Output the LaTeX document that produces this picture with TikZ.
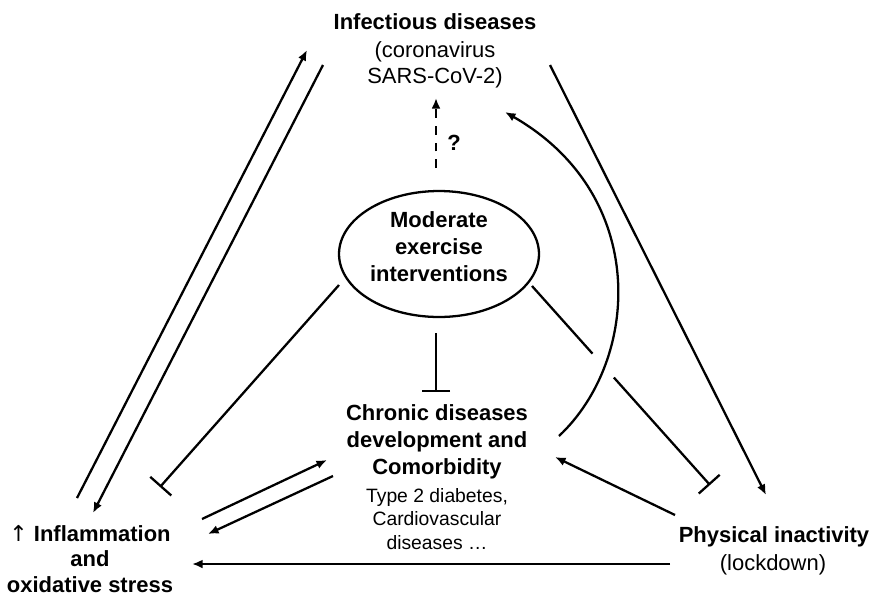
\documentclass[tikz,border=0pt]{standalone}
\usepackage{fontspec}
\setmainfont{Liberation Sans}
\newfontfamily\symfont{DejaVu Sans}
\usetikzlibrary{positioning, arrows.meta, calc, shapes.geometric}

\begin{document}
\begin{tikzpicture}[x=0.02cm, y=-0.02cm, line width=1.3pt,
  >={Latex[length=6pt,width=5pt]},
  ttl/.style={font=\fontsize{12.5}{15.5}\selectfont\bfseries, align=center, inner sep=0pt},
  sub/.style={font=\fontsize{12.5}{14.7}\selectfont, align=center, inner sep=0pt},
  inh/.style={-{Bar[width=16pt]}}]
  \useasboundingbox (0,0) rectangle (872,596);

  % corners of the triangle
  \node[ttl] (inf) at (435,22) {Infectious diseases};
  \node[sub] (infsub) at (435,65) {(coronavirus\\SARS-CoV-2)};
  \node[ttl, font=\fontsize{12.5}{14.5}\selectfont\bfseries] (infl) at (90,559)
       {{\symfont\mdseries ↑} Inflammation\\and\\oxidative stress};
  \node[ttl] (phys) at (774,537) {Physical inactivity};
  \node[sub] (physsub) at (773,565) {(lockdown)};

  % middle
  \node[ttl, ellipse, draw, minimum width=4cm, minimum height=2.52cm, text depth=0.3cm,
        font=\fontsize{12.5}{15.6}\selectfont\bfseries] (ex) at (439,254)
       {Moderate\\exercise\\interventions};
  \node[ttl, font=\fontsize{12.5}{15.3}\selectfont\bfseries] (chr) at (437,442)
       {Chronic diseases\\development and\\Comorbidity};
  \node[sub, font=\fontsize{11}{13.6}\selectfont] (chrsub) at (437,519)
       {Type 2 diabetes,\\Cardiovascular\\diseases \dots};
  \node[ttl] (q) at (454,143) {?};

  % arrows
  \draw[->] ($(infl)+(-13,-61)$) -- ($(inf)+(-128,28)$);
  \draw[->] ($(inf)+(-112,43)$) -- ($(infl)+(3,-46)$);
  \draw[->] ($(inf)+(115,43)$) -- ($(phys)+(-8,-42)$);
  \draw[->] ($(infl)+(112,-40)$) -- ($(chr)+(-110,18)$);
  \draw[->] ($(chr)+(-104,34)$) -- ($(infl)+(118,-25)$);
  \draw[->] ($(phys)+(-99,-22)$) -- ($(chr)+(118,15)$);
  \draw[->] ($(phys)+(-104,27)$) -- ($(infl)+(102,5)$);
  \draw[->, dash pattern=on 5pt off 4.5pt] ($(ex)+(-3,-86)$) -- ($(infsub)+(1,33)$);
  \draw[->] ($(chr)+(122,-6)$) .. controls +(81,-76) and +(145,83) .. ($(infsub)+(70,47)$);

  % inhibition
  \draw[inh] ($(ex)+(-100,31)$) -- ($(infl)+(70,-72)$);
  \draw[inh] ($(ex)+(-3,79)$) -- ($(chr)+(-1,-50)$);
  \coordinate (exR) at ($(ex)+(93,32)$);
  \coordinate (physT) at ($(phys)+(-64,-52)$);
  \draw (exR) -- ($(exR)!0.34!(physT)$);
  \draw[inh] ($(exR)!0.46!(physT)$) -- (physT);
\end{tikzpicture}
\end{document}
